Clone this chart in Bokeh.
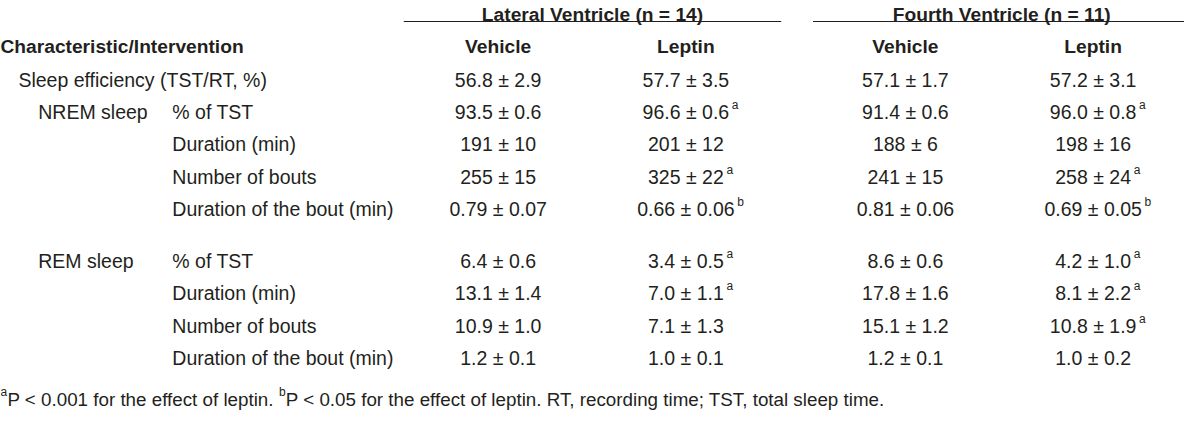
from bokeh.plotting import figure
from bokeh.models import Range1d, ColumnDataSource
from bokeh.core.properties import value
from bokeh.embed import file_html
from bokeh.resources import INLINE

# ---------------- data ----------------
groups = ["Lateral Ventricle (n = 14)", "Fourth Ventricle (n = 11)"]
treatments = ["Vehicle", "Leptin", "Vehicle", "Leptin"]
corner_label = "Characteristic/Intervention"
top_row_label = "Sleep efficiency (TST/RT, %)"
sections = ["NREM sleep", "REM sleep"]
measures = ["% of TST", "Duration (min)", "Number of bouts", "Duration of the bout (min)"]
row_decimals = [1, 1, 0, 0, 2, 1, 1, 1, 1]

lv_veh_mean = [56.8, 93.5, 191, 255, 0.79, 6.4, 13.1, 10.9, 1.2]
lv_veh_sem = [2.9, 0.6, 10, 15, 0.07, 0.6, 1.4, 1.0, 0.1]
lv_lep_mean = [57.7, 96.6, 201, 325, 0.66, 3.4, 7.0, 7.1, 1.0]
lv_lep_sem = [3.5, 0.6, 12, 22, 0.06, 0.5, 1.1, 1.3, 0.1]
lv_lep_sig = ["", "a", "", "a", "b", "a", "a", "", ""]
fv_veh_mean = [57.1, 91.4, 188, 241, 0.81, 8.6, 17.8, 15.1, 1.2]
fv_veh_sem = [1.7, 0.6, 6, 15, 0.06, 0.6, 1.6, 1.2, 0.1]
fv_lep_mean = [57.2, 96.0, 198, 258, 0.69, 4.2, 8.1, 10.8, 1.0]
fv_lep_sem = [3.1, 0.8, 16, 24, 0.05, 1.0, 2.2, 1.9, 0.2]
fv_lep_sig = ["", "a", "", "a", "b", "a", "a", "a", ""]

foot_a = "P < 0.001 for the effect of leptin."
foot_b = "P < 0.05 for the effect of leptin. RT, recording time; TST, total sleep time."

# ---------------- layout ----------------
FONT = "Liberation Sans"
SIZE = 19.5
BOLD = 19.2
FOOT = 18.8
SUP = 12
INK = "#231f20"

p = figure(width=1184, height=410, x_range=Range1d(2, 1194), y_range=Range1d(414, 4),
           output_backend="svg", toolbar_location=None, min_border=0, title=None)
p.axis.visible = False
p.grid.visible = False
p.outline_line_color = None
p.background_fill_color = "white"
p.border_fill_color = "white"

CAP = 0.358  # half cap height (em)


def base(yc, size=SIZE):
    return yc + CAP * size


def txt(xs, ys, texts, align="left", bold=False, size=SIZE):
    src = ColumnDataSource(dict(x=xs, y=[base(y, size) for y in ys], t=texts))
    p.text(x="x", y="y", text="t", source=src, text_font=value(FONT),
           text_font_size=f"{size}px", text_align=align, text_baseline="alphabetic",
           text_color=INK, text_font_style="bold" if bold else "normal")


# Arial-compatible advance widths (1/1000 em)
AW = {" ": 278, "(": 333, ")": 333, ",": 278, ".": 278, "/": 278, ";": 278,
      "<": 584, "=": 584, "%": 889, "\u00b1": 549}
AW.update({d: 556 for d in "0123456789"})
AW.update(dict(zip("ABCDEFGHIJKLMNOPQRSTUVWXYZ",
                   [667, 667, 722, 722, 667, 611, 778, 722, 278, 500, 667, 556, 833,
                    722, 778, 667, 778, 722, 667, 611, 722, 667, 944, 667, 667, 611])))
AW.update(dict(zip("abcdefghijklmnopqrstuvwxyz",
                   [556, 556, 500, 556, 556, 278, 556, 556, 222, 222, 500, 222, 833,
                    556, 556, 556, 556, 333, 500, 278, 556, 500, 722, 500, 500, 500])))


def width_est(s, size=SIZE):
    return sum(AW.get(c, 556) for c in s) / 1000 * size


group_lines = [(408, 788), (820, 1200)]
group_cx = [(a + b) / 2 for a, b in group_lines]
col_cx = [503, 692, 913, 1102]
row_y = [77, 109, 141, 174, 206, 258, 290, 323, 355]

# headers
txt(group_cx, [11, 11], groups, align="center", bold=True, size=BOLD)
for x0, x1 in group_lines:
    p.line([x0, x1], [25, 25], line_color=INK, line_width=1)
txt(col_cx, [43] * 4, treatments, align="center", bold=True, size=BOLD)
txt([2], [43], [corner_label], bold=True, size=BOLD)

# row labels
txt([20], [row_y[0]], [top_row_label])
txt([40, 40], [row_y[1], row_y[5]], sections)
txt([175] * 8, row_y[1:], measures + measures)

# values
cols = [(lv_veh_mean, lv_veh_sem, None), (lv_lep_mean, lv_lep_sem, lv_lep_sig),
        (fv_veh_mean, fv_veh_sem, None), (fv_lep_mean, fv_lep_sem, fv_lep_sig)]
for cx, (means, sems, sig) in zip(col_cx, cols):
    strs = [f"{m:.{d}f} \u00b1 {s:.{d}f}" for m, s, d in zip(means, sems, row_decimals)]
    txt([cx] * len(strs), row_y, strs, align="center")
    if sig:
        sx, sy, st = [], [], []
        for s, y, g in zip(strs, row_y, sig):
            if g:
                sx.append(cx + width_est(s) / 2 + 3)
                sy.append(y - 5)
                st.append(g)
        txt(sx, sy, st, size=SUP)

# footnote
fy = 396
xa = 9
xb_sup = xa + width_est(foot_a + " ", FOOT) + 1
xb = xb_sup + 7
txt([2, xb_sup], [fy - 5, fy - 5], ["a", "b"], size=SUP)
txt([xa, xb], [fy, fy], [foot_a, foot_b], size=FOOT)

open("out.html", "w").write(file_html(p, INLINE))
